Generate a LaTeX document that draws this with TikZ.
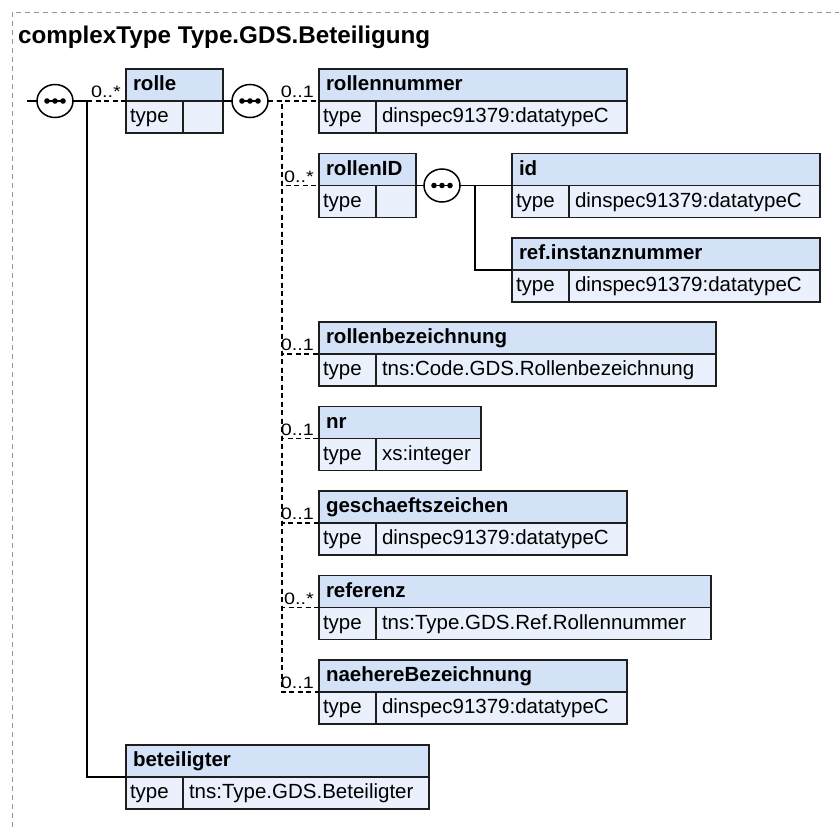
\documentclass[tikz,border=0pt]{standalone}
\usepackage{fontspec}
\setmainfont{Liberation Sans}
\usetikzlibrary{positioning,shapes.geometric}

\definecolor{hdrfill}{RGB}{212,226,248}
\definecolor{rowfill}{RGB}{234,241,252}
\definecolor{boxline}{RGB}{30,30,30}
\definecolor{framegray}{RGB}{150,150,150}

% element box: name, position, width, title, type
\newcommand{\xsbox}[5]{%
	\pgfmathsetmacro{\hdrw}{#3-14}%
	\pgfmathsetmacro{\valw}{#3-69}%
	\node[hdr, text width=\hdrw pt] (#1) at #2 {#4};
	\node[cell, text width=49pt, inner xsep=4pt] (#1-t) at (#1.south west) {type};
	\node[cell, text width=\valw pt] (#1-v) at (#1-t.north east) {#5};
}

\begin{document}
\begin{tikzpicture}[x=1pt, y=-1pt,
	hdr/.style={draw=boxline, fill=hdrfill, line width=1.5pt, outer sep=0pt,
		anchor=north west, minimum height=32pt, inner xsep=7pt, inner ysep=0pt,
		text height=15pt, text depth=4pt, font=\fontsize{20.5}{24}\bfseries},
	cell/.style={hdr, fill=rowfill, inner xsep=6pt, font=\fontsize{20.5}{24}\selectfont},
	seq/.style={ellipse, draw=black, fill=white, line width=1.5pt, minimum width=36pt,
		minimum height=33pt, inner sep=0pt, outer sep=0pt,
		path picture={
			\draw[black, line width=1.5pt] ([xshift=-8pt]path picture bounding box.center)
				-- ([xshift=8pt]path picture bounding box.center);
			\foreach \d in {-8,0,8}
				\fill[black] ([xshift=\d pt]path picture bounding box.center) circle (2.8pt);
		}},
	conn/.style={draw=black, line width=1.6pt},
	opt/.style={dash pattern=on 5pt off 3.5pt},
	mult/.style={anchor=south east, inner xsep=0pt, inner ysep=3pt,
		font=\fontsize{16.5}{18}\selectfont},
	frame/.style={draw=framegray, line width=1pt, dash pattern=on 5pt off 4pt}]
	\useasboundingbox (0,0) rectangle (839,827);
	\draw[frame] (12,827) |- (839,12);
	\node[anchor=base west, inner sep=0pt, font=\fontsize{24.2}{28}\bfseries] (title) at (18,43)
		{complexType Type.GDS.Beteiligung};

	% elements
	\xsbox{rolle}{(126,69)}{97}{rolle}{}
	\xsbox{rnr}{(319,69)}{308}{rollennummer}{dinspec91379:datatypeC}
	\xsbox{rid}{([yshift=-20.5pt]rnr-t.south west)}{97}{rollenID}{}
	\xsbox{id}{([xshift=96pt]rid.north east)}{308}{id}{dinspec91379:datatypeC}
	\xsbox{inst}{([yshift=-20.5pt]id-t.south west)}{308}{ref.instanznummer}{dinspec91379:datatypeC}
	\xsbox{rbez}{([yshift=-104.5pt]rid-t.south west)}{397}{rollenbezeichnung}{tns:Code.GDS.Rollenbezeichnung}
	\xsbox{nr}{([yshift=-20.5pt]rbez-t.south west)}{162}{nr}{xs:integer}
	\xsbox{gz}{([yshift=-20.5pt]nr-t.south west)}{308}{geschaeftszeichen}{dinspec91379:datatypeC}
	\xsbox{ref}{([yshift=-20.5pt]gz-t.south west)}{392}{referenz}{tns:Type.GDS.Ref.Rollennummer}
	\xsbox{nb}{([yshift=-20.5pt]ref-t.south west)}{308}{naehereBezeichnung}{dinspec91379:datatypeC}
	\xsbox{bet}{(126,745)}{303}{beteiligter}{tns:Type.GDS.Beteiligter}

	% sequences
	\node[seq, left=53pt of rolle.south west] (seq1) {};
	\node[seq, right=9pt of rolle-v.north east] (seq2) {};
	\node[seq, right=8pt of rid-v.north east] (seq3) {};
	\coordinate (start) at ([xshift=-10pt]seq1.west);
	\coordinate (j1) at ([xshift=14pt]seq1.east);
	\coordinate (j2) at ([xshift=14pt]seq2.east);
	\coordinate (j3) at ([xshift=15pt]seq3.east);

	% connectors
	\draw[conn] (start) -- (seq1.west);
	\draw[conn] (seq1.east) -- (j1) |- (bet.south west);
	\draw[conn, opt] (j1) -- (rolle.south west);
	\draw[conn] (rolle-v.north east) -- (seq2.west);
	\foreach \c in {rnr,rid,rbez,nr,gz,ref,nb}
		\draw[conn, opt] (seq2.east) -- (j2) |- (\c.south west);
	\draw[conn] (rid-v.north east) -- (seq3.west);
	\foreach \c in {id,inst}
		\draw[conn] (seq3.east) -- (j3) |- (\c.south west);

	% multiplicities
	\foreach \c/\m in {rolle/0..*, rnr/0..1, rid/0..*, rbez/0..1, nr/0..1, gz/0..1, ref/0..*, nb/0..1}
		\node[mult] at ([xshift=-5pt]\c.south west) {\scalebox{1.2}[1]{\m}};
\end{tikzpicture}
\end{document}
